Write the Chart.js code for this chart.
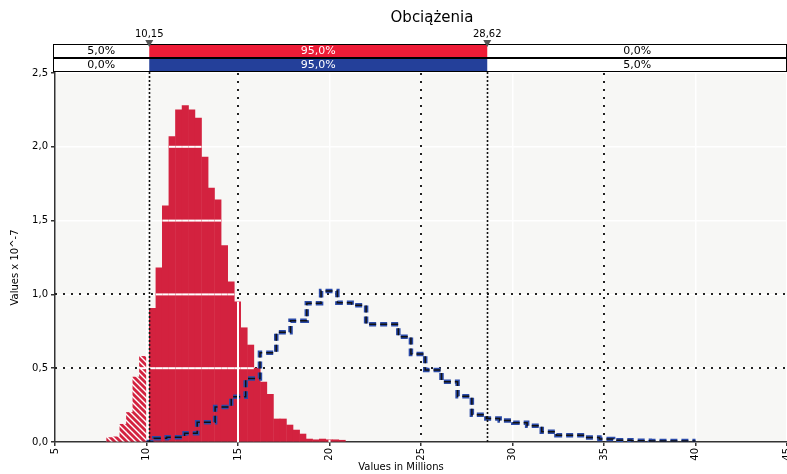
<!DOCTYPE html>
<html><head><meta charset="utf-8">
<script src="https://cdn.jsdelivr.net/npm/chart.js@4"></script>
<style>html,body{margin:0;padding:0;background:#fff}#w{width:787px;height:474px}</style>
</head><body><div id="w"><canvas id="c" width="787" height="474"></canvas></div>
<script>
const title = "Obciążenia";
const leftCut = 10.15, rightCut = 28.62;
const bandTop = ["5,0%", "95,0%", "0,0%"];
const bandBottom = ["0,0%", "95,0%", "5,0%"];
const xTicks = [5,10,15,20,25,30,35,40,45];
const hatchX = [8.0,8.36,8.72,9.08,9.43,9.79];
const hatchY = [0.03,0.035,0.12,0.20,0.44,0.58];
const redX = [10.33,10.69,11.04,11.40,11.76,12.12,12.47,12.83,13.19,13.54,13.90,14.26,14.62,14.97,15.33,15.69,16.04,16.40,16.76,17.12,17.47,17.83,18.19,18.54,18.90,19.26,19.62,19.97,20.33,20.69];
const redY = [0.906,1.18,1.60,2.07,2.25,2.28,2.25,2.195,1.93,1.72,1.64,1.33,1.086,0.95,0.774,0.657,0.50,0.406,0.323,0.156,0.156,0.115,0.081,0.054,0.02,0.015,0.02,0.015,0.015,0.012];
const blueX = [10.0,10.42,11.10,12.08,12.77,13.75,14.63,15.42,16.20,17.09,17.87,18.76,19.54,20.43,21.21,22.0,22.88,23.76,24.45,25.23,26.12,27.0,27.78,28.57,29.3,30.04,30.8,31.6,32.4,33.2,33.97,34.75,35.5,36.5,37.5,38.5,40.0];
const blueY = [0.0,0.025,0.032,0.059,0.133,0.237,0.307,0.43,0.605,0.743,0.822,0.94,1.023,0.944,0.926,0.797,0.797,0.713,0.596,0.488,0.409,0.31,0.185,0.16,0.145,0.13,0.11,0.07,0.045,0.045,0.03,0.02,0.012,0.008,0.007,0.006,0.006];

const RED = '#d3223f', BLUE = '#2a4aa8';
const pc = document.createElement('canvas'); pc.width = 6; pc.height = 6;
const p = pc.getContext('2d'); p.fillStyle = RED; p.fillRect(0,0,6,6);
p.strokeStyle = '#fff'; p.lineWidth = 1.4;
p.beginPath(); p.moveTo(0,0); p.lineTo(6,6); p.moveTo(-3,3); p.lineTo(3,9); p.moveTo(3,-3); p.lineTo(9,3); p.stroke();
const ctx0 = document.getElementById('c').getContext('2d');
const hatch = ctx0.createPattern(pc, 'repeat');

const FONT = 'DejaVu Sans';
const deco = {
  id: 'deco',
  beforeDraw(ch) {
    const {ctx, chartArea: a} = ch;
    ctx.save(); ctx.fillStyle = '#f7f7f5'; ctx.fillRect(a.left, a.top, a.right - a.left, a.bottom - a.top); ctx.restore();
  },
  beforeDatasetsDraw(ch) {
    const {ctx, chartArea: a, scales: {x, y}} = ch;
    ctx.save(); ctx.strokeStyle = '#222'; ctx.lineWidth = 2; ctx.setLineDash([2, 6]);
    [15, 25, 35].forEach(v => { const px = Math.round(x.getPixelForValue(v)); ctx.beginPath(); ctx.moveTo(px, a.top); ctx.lineTo(px, a.bottom); ctx.stroke(); });
    [0.5, 1.0].forEach(v => { const py = Math.round(y.getPixelForValue(v)); ctx.beginPath(); ctx.moveTo(a.left, py); ctx.lineTo(a.right, py); ctx.stroke(); });
    ctx.restore();
  },
  afterDatasetsDraw(ch) {
    const {ctx, chartArea: a, scales: {x, y}} = ch;
    ctx.save(); ctx.strokeStyle = '#fff'; ctx.lineWidth = 2;
    [0, 1].forEach(di => {
      ch.getDatasetMeta(di).data.forEach(b => {
        const l = b.x - b.width / 2, r = b.x + b.width / 2;
        [0.5, 1.0, 1.5, 2.0].forEach(v => { const py = y.getPixelForValue(v); if (b.y < py) { ctx.beginPath(); ctx.moveTo(l, py); ctx.lineTo(r, py); ctx.stroke(); } });
        [10, 15, 20].forEach(v => { const px = x.getPixelForValue(v); if (px > l && px < r) { ctx.beginPath(); ctx.moveTo(px, b.y); ctx.lineTo(px, a.bottom); ctx.stroke(); } });
      });
    });
    ctx.strokeStyle = '#111'; ctx.lineWidth = 1.6; ctx.setLineDash([2, 2]);
    [leftCut, rightCut].forEach(v => { const px = Math.round(x.getPixelForValue(v)) + 0.5; ctx.beginPath(); ctx.moveTo(px, 44); ctx.lineTo(px, a.bottom); ctx.stroke(); });
    ctx.setLineDash([]);
    const L = a.left - 2, R = a.right, lc = x.getPixelForValue(leftCut), rc = x.getPixelForValue(rightCut);
    const rows = [[44, bandTop, '#ee1c37'], [58, bandBottom, '#24409a']];
    ctx.font = '11px ' + FONT; ctx.textAlign = 'center'; ctx.textBaseline = 'middle';
    rows.forEach(([top, labs, col]) => {
      ctx.fillStyle = '#fff'; ctx.fillRect(L, top, R - L, 13);
      ctx.fillStyle = col; ctx.fillRect(lc, top, rc - lc, 13);
      ctx.strokeStyle = '#000'; ctx.lineWidth = 1; ctx.strokeRect(L + 0.5, top + 0.5, R - L - 1, 13);
      ctx.fillStyle = '#000'; ctx.fillText(labs[0], (L + lc) / 2, top + 7);
      ctx.fillStyle = '#fff'; ctx.fillText(labs[1], (lc + rc) / 2, top + 7);
      ctx.fillStyle = '#000'; ctx.fillText(labs[2], (rc + R) / 2, top + 7);
    });
    ctx.beginPath(); ctx.moveTo(lc, 71.5); ctx.lineTo(rc, 71.5); ctx.stroke();
    [[leftCut, '10,15'], [rightCut, '28,62']].forEach(([v, t]) => {
      const px = x.getPixelForValue(v);
      ctx.fillStyle = '#555'; ctx.beginPath(); ctx.moveTo(px - 4, 40); ctx.lineTo(px + 4, 40); ctx.lineTo(px, 47); ctx.closePath(); ctx.fill();
      ctx.fillStyle = '#000'; ctx.font = '10px ' + FONT; ctx.fillText(t, px, 34);
    });
    ctx.font = '15px ' + FONT; ctx.fillText(title, (L + R) / 2 + 12, 18);
    ctx.font = '10px ' + FONT; ctx.fillText('Values in Millions', (a.left + a.right) / 2 - 20, 467);
    ctx.save(); ctx.translate(15, (a.top + a.bottom) / 2 + 10); ctx.rotate(-Math.PI / 2); ctx.fillText('Values x 10^-7', 0, 0); ctx.restore();
    ctx.restore();
  }
};

new Chart(ctx0, {
  type: 'bar',
  data: { datasets: [
    { type: 'bar', data: hatchX.map((v, i) => ({x: v, y: hatchY[i]})), backgroundColor: hatch, barPercentage: 1, categoryPercentage: 1, grouped: false, order: 2 },
    { type: 'bar', data: redX.map((v, i) => ({x: v, y: redY[i]})), backgroundColor: RED, barPercentage: 1, categoryPercentage: 1, grouped: false, order: 2 },
    { type: 'line', data: blueX.map((v, i) => ({x: v, y: blueY[i]})), stepped: 'before', borderColor: BLUE, borderWidth: 4.5, borderDash: [7, 4], pointRadius: 0, fill: false, order: 1 },
    { type: 'line', data: blueX.map((v, i) => ({x: v, y: blueY[i]})), stepped: 'before', borderColor: '#111', borderWidth: 1.5, borderDash: [7, 4], pointRadius: 0, fill: false, order: 0 }
  ]},
  options: {
    responsive: false, animation: false,
    layout: { padding: { top: 73, right: -5, left: 0, bottom: 0 } },
    plugins: { legend: { display: false }, tooltip: { enabled: false } },
    scales: {
      x: { type: 'linear', min: 5, max: 45, offset: false, afterBuildTicks: s => { s.ticks = xTicks.map(v => ({value: v})); },
        afterFit: s => { s.height = 32; s.paddingRight = 0; },
        grid: { offset: false, color: '#fff', lineWidth: 1.5, drawTicks: true, tickLength: 4, tickColor: '#333' },
        border: { color: '#333', width: 1.5 },
        ticks: { minRotation: 90, maxRotation: 90, font: { family: FONT, size: 10 }, color: '#000', padding: 2 } },
      y: { min: 0, max: 2.5, ticks: { stepSize: 0.5, font: { family: FONT, size: 10 }, color: '#000', callback: v => v.toFixed(1).replace('.', ','), padding: 3 },
        afterFit: s => { s.width = 55; },
        grid: { color: '#fff', lineWidth: 1.5, tickLength: 4, tickColor: '#333' },
        border: { color: '#333', width: 1.5 } }
    }
  },
  plugins: [deco]
});
</script></body></html>
